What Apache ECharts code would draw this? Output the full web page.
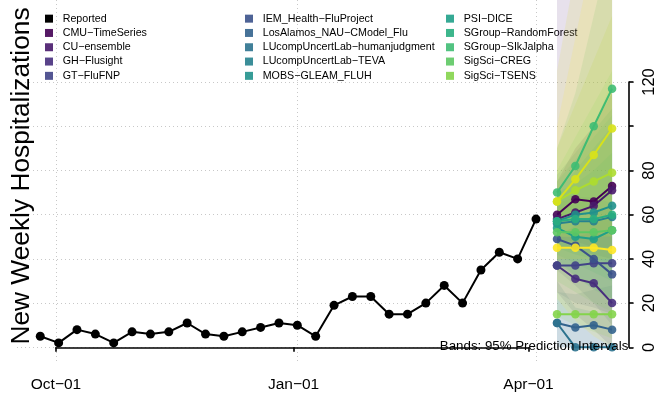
<!DOCTYPE html>
<html><head><meta charset="utf-8">
<script src="https://cdn.jsdelivr.net/npm/echarts@6/dist/echarts.min.js"></script>
<style>html,body{margin:0;padding:0;background:#fff}#c{width:658px;height:397px}</style>
</head><body><div id="c"></div>
<script>
const reportedDates = ['2023-09-25','2023-10-02','2023-10-09','2023-10-16','2023-10-23','2023-10-30','2023-11-06','2023-11-13','2023-11-20','2023-11-27','2023-12-04','2023-12-11','2023-12-18','2023-12-25','2024-01-01','2024-01-08','2024-01-15','2024-01-22','2024-01-29','2024-02-05','2024-02-12','2024-02-19','2024-02-26','2024-03-04','2024-03-11','2024-03-18','2024-03-25','2024-04-01'];
const reportedValues = [5,2,8,6,2,7,6,7,11,6,5,7,9,11,10,5,19,23,23,15,15,20,28,20,35,43,40,58];
const forecastDates = ['2024-04-09','2024-04-16','2024-04-23','2024-04-30'];
const modelNames = ['CMU-TimeSeries','CU-ensemble','GH-Flusight','GT-FluFNP','IEM_Health-FluProject','LosAlamos_NAU-CModel_Flu','LUcompUncertLab-humanjudgment','LUcompUncertLab-TEVA','MOBS-GLEAM_FLUH','PSI-DICE','SGroup-RandomForest','SGroup-SIkJalpha','SigSci-CREG','SigSci-TSENS','Model 15','Model 16','Model 17'];
const modelColors = ['#440154','#481A6C','#472F7D','#414487','#3B528B','#33638D','#2C728E','#26828E','#21918C','#1FA088','#28AE80','#3FBC73','#5DC863','#84D44B','#ADDC30','#D8E219','#FDE725'];
const forecastMedian = [
  [60,67,66,73],[58,61,64,71],[37,31,29,20],[37,37,38,38],[49,46,40,33],
  [11,9,10,8],[11,0,0,0],[56,57,57,59],[57,60,61,64],[54,50,49,53],
  [57,58,58,60],[70,82,100,117],[52,52,52,53],[15,15,15,15],
  [66,71,75,79],[66,76,87,99],[45,45,45,44]
];
const forecastLower = [
  [48,48,45,45],[45,44,42,40],[25,15,8,0],[25,20,18,15],[35,28,20,10],
  [0,0,0,0],[0,0,0,0],[38,32,27,22],[45,42,40,38],[40,32,26,22],
  [42,38,34,30],[55,60,65,70],[30,25,20,16],[14,10,7,4],
  [50,50,50,50],[40,40,40,40],[22,12,5,0]
];
const forecastUpper = [
  [75,90,100,115],[165,175,185,195],[50,50,52,50],[50,55,60,65],[65,68,68,65],
  [25,24,26,28],[30,18,16,15],[78,88,98,108],[70,80,90,100],[70,74,80,88],
  [75,85,95,105],[90,115,150,185],[80,95,110,125],[60,80,100,120],
  [90,110,130,150],[125,170,210,250],[100,140,180,220]
];
const xTickDates = ['2023-10-01','2024-01-01','2024-04-01'];
const yTicks = [0,20,40,60,80,100,120];
const yTickLabels = [0,20,40,60,80,120];
const legendCols = [
  ['Reported','CMU-TimeSeries','CU-ensemble','GH-Flusight','GT-FluFNP'],
  ['IEM_Health-FluProject','LosAlamos_NAU-CModel_Flu','LUcompUncertLab-humanjudgment','LUcompUncertLab-TEVA','MOBS-GLEAM_FLUH'],
  ['PSI-DICE','SGroup-RandomForest','SGroup-SIkJalpha','SigSci-CREG','SigSci-TSENS']
];

const W = 658, H = 397;
const FONT = 'Liberation Sans, Arial, Helvetica, sans-serif';
const DAY = 86400000;
const P = v => echarts.time.parse(v).getTime();
const MONTHS = ['Jan','Feb','Mar','Apr','May','Jun','Jul','Aug','Sep','Oct','Nov','Dec'];
const fmtDate = v => { const d = new Date(v); return MONTHS[d.getMonth()] + '\u2212' + String(d.getDate()).padStart(2,'0'); };
const dashName = s => s.replace(/-/g, '\u2212');

const MAIN = {left: 17, right: 21.5, top: 0, bottom: 35.3};
const xMin = P(xTickDates[0]) - 14.87 * DAY;
const xMax = P(xTickDates[2]) + 38.31 * DAY;
const yMin = -6.5, yMax = 157.1;

const colorOf = n => n === 'Reported' ? '#000' : modelColors[modelNames.indexOf(n)];

const series = [];
modelNames.forEach((name, i) => {
  const lo = forecastLower[i], hi = forecastUpper[i];
  series.push({
    type: 'custom', name: name + ' band', xAxisIndex: 0, yAxisIndex: 0, silent: true, z: 2,
    data: forecastDates.map((d, k) => [P(d), lo[k], hi[k]]),
    encode: {x: 0, y: [1, 2]},
    renderItem: (params, api) => {
      if (params.dataIndex !== 0) return null;
      const upper = forecastDates.map((d, k) => api.coord([P(d), hi[k]]));
      const lower = forecastDates.map((d, k) => api.coord([P(d), lo[k]])).reverse();
      const cs = params.coordSys;
      return {
        type: 'polygon',
        shape: {points: upper.concat(lower)},
        style: {fill: modelColors[i], opacity: 0.13},
        clipPath: {type: 'rect', shape: {x: cs.x, y: cs.y, width: cs.width, height: cs.height}}
      };
    }
  });
});
modelNames.forEach((name, i) => {
  series.push({
    type: 'line', name: name, xAxisIndex: 0, yAxisIndex: 0,
    data: forecastDates.map((d, k) => [P(d), forecastMedian[i][k]]),
    symbol: 'circle', symbolSize: 8.5, color: modelColors[i],
    lineStyle: {width: 2, color: modelColors[i]},
    itemStyle: {color: modelColors[i], opacity: 0.9}, z: 3
  });
});
series.push({
  type: 'line', name: 'Reported', xAxisIndex: 0, yAxisIndex: 0,
  data: reportedDates.map((d, k) => [P(d), reportedValues[k]]),
  symbol: 'circle', symbolSize: 9, color: '#000',
  lineStyle: {width: 2, color: '#000'}, itemStyle: {color: '#000'}, z: 4
});

const legendX = [45, 245, 446];
const legends = legendCols.map((col, c) => ({
  orient: 'vertical', left: legendX[c], top: 11.5, padding: 0, itemGap: 0,
  itemWidth: 8, itemHeight: 8, icon: 'rect', selectedMode: false, z: 1,
  data: col.map(n => ({name: n, icon: 'rect', itemStyle: {color: colorOf(n)}})),
  formatter: dashName,
  textStyle: {fontFamily: FONT, fontSize: 10.7, color: '#000', lineHeight: 14.3, padding: [0,0,0,4.7]}
}));

const gridLine = {show: true, lineStyle: {color: '#c8c8c8', width: 1, type: [1, 3]}};
const axisBlack = {color: '#000', width: 1.6};
const xTickVals = xTickDates.map(P);

const option = {
  animation: false,
  backgroundColor: '#fff',
  legend: legends,
  grid: [
    {left: MAIN.left, right: MAIN.right, top: MAIN.top, bottom: MAIN.bottom},
    {left: 56, right: 122, top: 82, bottom: 50}
  ],
  xAxis: [
    {type: 'value', gridIndex: 0, min: xMin, max: xMax,
     axisLine: {show: false}, axisLabel: {show: false},
     axisTick: {show: false, customValues: xTickVals}, splitLine: gridLine},
    {type: 'value', gridIndex: 1, min: xTickVals[0], max: xTickVals[2], position: 'bottom', offset: 14.4,
     axisLine: {show: true, lineStyle: axisBlack},
     axisTick: {show: true, length: 4.5, lineStyle: axisBlack, customValues: xTickVals},
     axisLabel: {show: true, customValues: xTickVals, formatter: fmtDate, fontSize: 15.5, fontFamily: FONT, color: '#000', margin: 15},
     splitLine: {show: false}}
  ],
  yAxis: [
    {type: 'value', gridIndex: 0, min: yMin, max: yMax,
     axisLine: {show: false}, axisLabel: {show: false},
     axisTick: {show: false, customValues: yTicks}, splitLine: gridLine},
    {type: 'value', gridIndex: 1, min: 0, max: 120, position: 'right', offset: 100.5,
     axisLine: {show: true, lineStyle: axisBlack},
     axisTick: {show: true, length: 4.5, lineStyle: axisBlack, customValues: yTicks},
     axisLabel: {show: true, customValues: yTickLabels, rotate: 90, fontSize: 16.5, fontFamily: FONT, color: '#000', margin: 12},
     splitLine: {show: false}}
  ],
  series: series,
  graphic: [
    {type: 'text', x: 21.5, y: 176, rotation: Math.PI / 2, z: 10,
     style: {text: 'New Weekly Hospitalizations', fontSize: 26.3, fontFamily: FONT, fill: '#000', align: 'center', verticalAlign: 'middle'}},
    {type: 'text', x: 628.3, y: 346, z: 10,
     style: {text: 'Bands: 95% Prediction Intervals', fontSize: 13.3, fontFamily: FONT, fill: '#000', align: 'right', verticalAlign: 'middle'}}
  ]
};

const chart = echarts.init(document.getElementById('c'), null, {renderer: 'canvas', width: W, height: H});
chart.setOption(option);
const pA = chart.convertToPixel({gridIndex: 0}, [xTickVals[0], 0]);
const pB = chart.convertToPixel({gridIndex: 0}, [xTickVals[2], 120]);
const mainRight = W - MAIN.right, mainBottom = H - MAIN.bottom;
chart.setOption({
  grid: [{}, {left: pA[0], right: W - pB[0], top: pB[1], bottom: H - pA[1]}],
  xAxis: [{}, {offset: mainBottom - pA[1]}],
  yAxis: [{}, {offset: mainRight - pB[0]}]
});
</script>
</body></html>
